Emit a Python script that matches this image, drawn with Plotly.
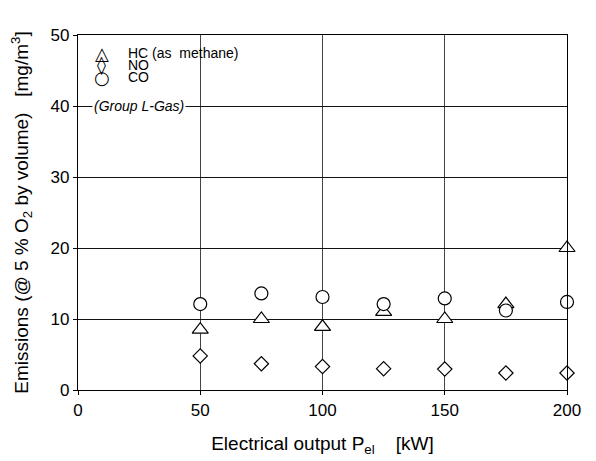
import plotly.graph_objects as go

power_kw = [50, 75, 100, 125, 150, 175, 200]
hc_values = [8.5, 10.0, 8.9, 11.0, 10.0, 12.1, 20.0]
no_values = [4.8, 3.7, 3.3, 3.0, 2.95, 2.4, 2.4]
co_values = [12.1, 13.6, 13.1, 12.1, 12.9, 11.2, 12.4]
x_ticks = [0, 50, 100, 150, 200]
y_ticks = [0, 10, 20, 30, 40, 50]
legend_symbols = ["\u25b3", "\u25ca", "\u25cb"]
legend_fonts = ["DejaVu Sans", "DejaVu Sans", "DejaVu Sans"]
legend_sizes = [18, 18, 18]
legend_names = ["HC (as&nbsp;&nbsp;methane)", "NO", "CO"]

font = "Liberation Sans, Arial, sans-serif"
fig = go.Figure()
mk = dict(color="white", line=dict(color="black", width=1.2))
fig.add_trace(go.Scatter(x=power_kw, y=hc_values, mode="markers", name="HC",
                         marker=dict(symbol="triangle-up", size=14, **mk), cliponaxis=False))
fig.add_trace(go.Scatter(x=power_kw, y=no_values, mode="markers", name="NO",
                         marker=dict(symbol="diamond", size=11, **mk), cliponaxis=False))
fig.add_trace(go.Scatter(x=power_kw, y=co_values, mode="markers", name="CO",
                         marker=dict(symbol="circle", size=13, **mk), cliponaxis=False))

# legend block (as text)
for i, (sym, name) in enumerate(zip(legend_symbols, legend_names)):
    ypos = 0.949 - i * 0.0338
    fig.add_annotation(x=0.049, y=ypos, xref="paper", yref="paper", text=sym, showarrow=False,
                       xanchor="center", yanchor="middle",
                       font=dict(family=legend_fonts[i], size=legend_sizes[i], color="black"))
    fig.add_annotation(x=0.099, y=ypos, xref="paper", yref="paper", text=name, showarrow=False,
                       xanchor="left", yanchor="middle",
                       font=dict(family=font, size=14, color="black"))

fig.add_annotation(x=0.029, y=40, xref="paper", yref="y", text="<i>(Group L-Gas)</i>",
                   showarrow=False, xanchor="left", yanchor="middle", bgcolor="white",
                   borderpad=1, font=dict(family=font, size=14, color="black"))

# page body has an 8px default margin; compensate so the plot sits where the reference has it
fig.update_layout(
    width=588, height=453,
    margin=dict(l=70, r=29, t=27, b=71, autoexpand=False),
    paper_bgcolor="white", plot_bgcolor="white",
    font=dict(family=font, color="black"),
    showlegend=False,
    xaxis=dict(range=[0, 200], tickvals=x_ticks, showgrid=True, gridcolor="#444", gridwidth=1,
               showline=True, linecolor="black", linewidth=1.2, mirror=True,
               ticks="outside", ticklen=4, tickcolor="black", zeroline=False, automargin=False,
               tickfont=dict(size=17, family=font),
               title=dict(text="Electrical output P<sub>el</sub>&nbsp;&nbsp;&nbsp;&nbsp;[kW]",
                          font=dict(size=19, family=font), standoff=18)),
    yaxis=dict(range=[0, 50], tickvals=y_ticks, showgrid=True, gridcolor="#111", gridwidth=1,
               showline=True, linecolor="black", linewidth=1.2, mirror=True,
               ticks="outside", ticklen=4, tickcolor="black", zeroline=False, automargin=False,
               tickfont=dict(size=17, family=font),
               title=dict(text="Emissions (@ 5 % O<sub>2</sub> by volume)&nbsp;&nbsp;&nbsp;[mg/m<sup>3</sup>]",
                          font=dict(size=19, family=font), standoff=20)),
)
fig.write_html("out.html")
